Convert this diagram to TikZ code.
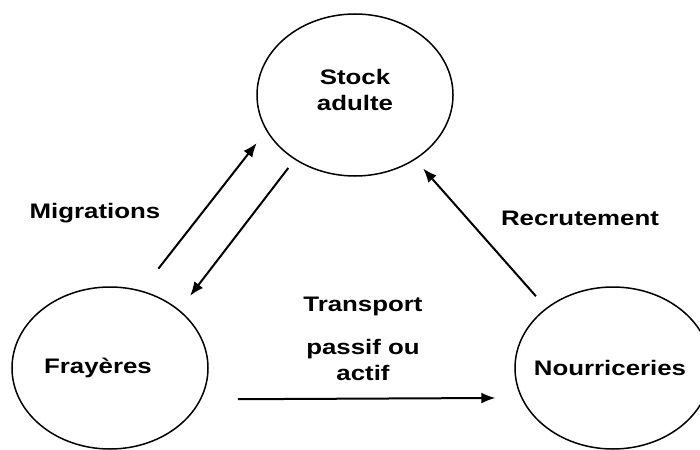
\documentclass[tikz,border=0pt]{standalone}
\usepackage{fontspec}
\setmainfont[FakeStretch=1.23]{Liberation Sans}
\usetikzlibrary{shapes.geometric,arrows.meta,positioning}

\begin{document}
\begin{tikzpicture}[x=1pt, y=-1pt, >={Latex[length=14pt,width=11pt]},
    zone/.style={draw, ellipse, line width=1.5pt, minimum width=196pt, minimum height=162pt, inner sep=0pt},
    lbl/.style={align=center, font=\fontsize{21}{26}\selectfont\bfseries},
    flux/.style={->, line width=2pt}]
    \useasboundingbox (0,0) rectangle (700,449);
    % Habitats
    \node[zone] (stock) at (355, 95) {};
    \node[zone] (fray) at (110, 368) {};
    \node[zone] (nourr) at (613, 368) {};
    \node[lbl] (stocktxt) at ([yshift=5pt]stock) {Stock\\adulte};
    \node[lbl] (fraytxt) at ([xshift=-12pt]fray) {Fray\`eres};
    \node[lbl] (nourrtxt) at ([xshift=-3pt]nourr) {Nourriceries};
    % Labels
    \node[lbl] (migr) at (95, 213) {Migrations};
    \node[lbl] (recr) at (580, 218) {Recrutement};
    \node[lbl, anchor=north] (transp) at (363, 294) {Transport\\[17pt]passif ou\\actif};
    % Arrows
    \draw[flux, shorten <=27.7pt, shorten >=15.5pt] (fray.68.7) -- (stock.202.3);
    \draw[flux, shorten <=10.5pt, shorten >=17.6pt] (stock.227.4) -- (fray.40.9);
    \draw[flux, shorten <=15.5pt, shorten >=11.7pt] (nourr.138) -- (stock.313.2);
    \draw[flux, shorten <=36.7pt, shorten >=25.7pt] (fray.341.1) -- (nourr.198.9);
\end{tikzpicture}
\end{document}
